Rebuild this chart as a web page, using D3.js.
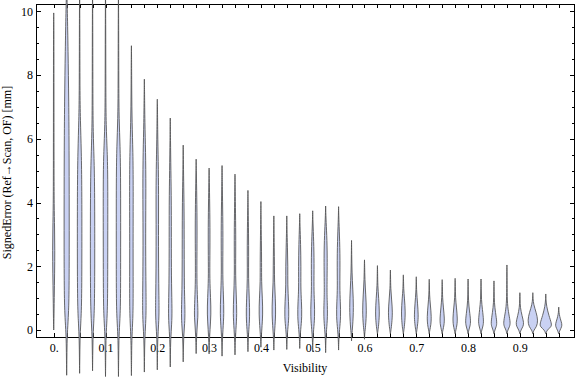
<!DOCTYPE html>
<html>
<head>
<meta charset="utf-8">
<script src="https://cdn.jsdelivr.net/npm/d3@7"></script>
<style>
  body { margin: 0; background: #fff; }
  svg { display: block; }
</style>
</head>
<body>
<div id="chart"></div>
<script>
// visibility bins (one violin per bin)
const visibility = [0, 0.025, 0.05, 0.075, 0.1, 0.125, 0.15, 0.175, 0.2, 0.225,
  0.25, 0.275, 0.3, 0.325, 0.35, 0.375, 0.4, 0.425, 0.45, 0.475,
  0.5, 0.525, 0.55, 0.575, 0.6, 0.625, 0.65, 0.675, 0.7, 0.725,
  0.75, 0.775, 0.8, 0.825, 0.85, 0.875, 0.9, 0.925, 0.95, 0.975];

// smallest / largest signed error in each bin [mm]
const minError = [0, -1.42, -1.36, -1.28, -1.46, -1.46, -1.43, -1.32, -1.25, -1.16,
  -1.0, -0.74, -0.75, -0.82, -0.78, -0.68, -0.54, -0.63, -0.61, -0.58,
  -0.68, -0.71, -0.63, -0.34, -0.29, -0.12, -0.12, -0.12, -0.12, -0.12,
  -0.12, -0.12, -0.12, -0.12, -0.12, -0.12, -0.12, -0.12, -0.12, -0.12];
const maxError = [9.95, 10.8, 10.8, 10.8, 10.8, 10.8, 8.92, 7.87, 7.24, 6.65,
  5.8, 5.36, 5.08, 5.16, 4.89, 4.38, 4.03, 3.58, 3.58, 3.65,
  3.74, 3.89, 3.87, 2.81, 2.2, 2.02, 1.88, 1.73, 1.67, 1.59,
  1.58, 1.62, 1.6, 1.6, 1.54, 2.04, 1.17, 1.17, 1.13, 0.72];

// estimated density profile of each bin: [error, relative density]
const densityProfiles = [
  [[0.3,0.04],[1.0,0.08],[1.8,0.15],[2.5,0.18],[3.2,0.14],[3.9,0.07],[5,0.05],[8,0.04],[9.6,0.03]],
  [[-1.0,0.03],[-0.4,0.06],[0,0.14],[0.5,0.3],[1.2,0.4],[3,0.42],[5.5,0.4],[7.2,0.34],[8.8,0.22],[10,0.12]],
  [[-0.9,0.03],[-0.3,0.06],[0.2,0.18],[0.8,0.34],[2.5,0.37],[4.5,0.36],[5.6,0.28],[6.6,0.12],[7.5,0.05],[9.5,0.04]],
  [[-0.8,0.03],[-0.3,0.06],[0.2,0.18],[0.8,0.33],[2.5,0.36],[4.5,0.34],[5.4,0.24],[6.2,0.1],[7.2,0.05],[9.5,0.04]],
  [[-1.0,0.03],[-0.3,0.06],[0.2,0.2],[0.8,0.35],[2.5,0.36],[4.8,0.38],[5.6,0.28],[6.4,0.1],[7.5,0.05],[9.5,0.04]],
  [[-1.0,0.03],[-0.3,0.06],[0.2,0.2],[0.8,0.35],[2.5,0.35],[4.8,0.36],[5.8,0.26],[6.6,0.1],[7.6,0.05],[9.5,0.04]],
  [[-1.0,0.03],[-0.3,0.06],[0.2,0.2],[0.8,0.3],[2.5,0.26],[4.5,0.3],[5.6,0.25],[6.5,0.1],[7.5,0.05],[8.5,0.03]],
  [[-0.9,0.03],[-0.3,0.06],[0.2,0.22],[0.7,0.3],[1.6,0.24],[3,0.2],[4.5,0.26],[5.6,0.2],[6.5,0.08],[7.5,0.03]],
  [[-0.8,0.03],[-0.3,0.06],[0.2,0.22],[0.6,0.3],[1.5,0.22],[3,0.18],[4.3,0.22],[5.3,0.15],[6.2,0.06],[7,0.03]],
  [[-0.8,0.03],[-0.3,0.06],[0.2,0.24],[0.6,0.3],[1.4,0.2],[2.5,0.17],[4,0.18],[5,0.1],[6,0.04]],
  [[-0.6,0.03],[-0.2,0.07],[0.2,0.25],[0.6,0.3],[1.3,0.18],[2.5,0.16],[3.8,0.15],[4.7,0.07],[5.4,0.03]],
  [[-0.4,0.04],[0,0.12],[0.4,0.3],[0.8,0.26],[1.4,0.12],[2.2,0.12],[3.2,0.16],[4.2,0.1],[5,0.03]],
  [[-0.4,0.04],[0,0.14],[0.5,0.32],[1,0.24],[1.6,0.1],[2.3,0.13],[3.2,0.15],[4.2,0.08],[4.8,0.03]],
  [[-0.4,0.04],[0,0.14],[0.5,0.32],[1.1,0.22],[1.7,0.1],[2.5,0.14],[3.3,0.14],[4.3,0.06],[4.9,0.03]],
  [[-0.4,0.04],[0,0.14],[0.5,0.32],[1.1,0.2],[1.7,0.09],[2.4,0.12],[3.2,0.12],[4.1,0.05],[4.6,0.03]],
  [[-0.3,0.04],[0,0.14],[0.4,0.3],[1.0,0.22],[1.6,0.08],[2.3,0.12],[3,0.1],[3.8,0.04]],
  [[-0.3,0.04],[0,0.14],[0.5,0.32],[1.0,0.24],[1.5,0.1],[2.1,0.12],[2.8,0.08],[3.5,0.03]],
  [[-0.3,0.04],[0,0.14],[0.5,0.32],[1.0,0.24],[1.5,0.1],[2.0,0.1],[2.6,0.06],[3.2,0.03]],
  [[-0.3,0.04],[0,0.14],[0.4,0.36],[0.9,0.28],[1.4,0.14],[2.0,0.18],[2.6,0.1],[3.2,0.03]],
  [[-0.3,0.04],[0,0.14],[0.4,0.36],[0.9,0.28],[1.3,0.16],[2.0,0.2],[2.7,0.14],[3.3,0.04]],
  [[-0.3,0.04],[0,0.14],[0.4,0.34],[0.9,0.28],[1.3,0.18],[2.1,0.24],[2.8,0.16],[3.4,0.04]],
  [[-0.3,0.04],[0,0.14],[0.4,0.32],[0.9,0.26],[1.2,0.2],[2.3,0.28],[3.0,0.18],[3.5,0.05]],
  [[-0.3,0.04],[0,0.14],[0.4,0.36],[0.9,0.28],[1.3,0.18],[2.2,0.25],[3.0,0.14],[3.5,0.04]],
  [[-0.15,0.04],[0.1,0.18],[0.7,0.34],[1.3,0.2],[1.8,0.07],[2.4,0.03]],
  [[-0.1,0.04],[0.1,0.18],[0.6,0.34],[1.1,0.2],[1.6,0.06],[2.0,0.03]],
  [[0,0.1],[0.2,0.22],[0.55,0.34],[1.0,0.2],[1.4,0.05],[1.8,0.03]],
  [[0,0.1],[0.2,0.22],[0.55,0.36],[0.95,0.2],[1.3,0.05],[1.7,0.03]],
  [[0,0.1],[0.2,0.22],[0.55,0.34],[1.0,0.18],[1.3,0.05],[1.6,0.03]],
  [[0,0.1],[0.2,0.24],[0.45,0.34],[0.85,0.2],[1.2,0.05],[1.5,0.03]],
  [[0,0.1],[0.15,0.26],[0.4,0.36],[0.8,0.18],[1.1,0.05],[1.4,0.03]],
  [[0,0.12],[0.15,0.3],[0.35,0.38],[0.7,0.2],[1.0,0.06],[1.4,0.03]],
  [[0,0.12],[0.15,0.3],[0.35,0.38],[0.7,0.22],[1.0,0.06],[1.4,0.03]],
  [[0,0.12],[0.12,0.32],[0.28,0.44],[0.6,0.22],[0.9,0.06],[1.3,0.03]],
  [[0,0.12],[0.12,0.32],[0.28,0.44],[0.65,0.22],[0.95,0.06],[1.3,0.03]],
  [[0,0.14],[0.1,0.36],[0.22,0.5],[0.55,0.24],[0.85,0.06],[1.2,0.03]],
  [[0,0.14],[0.1,0.42],[0.22,0.58],[0.5,0.3],[0.8,0.07],[1.3,0.03],[1.8,0.02]],
  [[0,0.16],[0.1,0.5],[0.22,0.66],[0.45,0.34],[0.7,0.07],[0.95,0.03]],
  [[0,0.16],[0.1,0.62],[0.3,0.84],[0.55,0.55],[0.8,0.12],[1.0,0.03]],
  [[0,0.2],[0.1,0.9],[0.2,0.95],[0.45,0.5],[0.75,0.12],[0.95,0.03]],
  [[0,0.2],[0.1,0.5],[0.2,0.52],[0.35,0.25],[0.5,0.08],[0.6,0.03]]
];

const xTickValues = [0, 0.1, 0.2, 0.3, 0.4, 0.5, 0.6, 0.7, 0.8, 0.9];
const xTickLabels = ["0.", "0.1", "0.2", "0.3", "0.4", "0.5", "0.6", "0.7", "0.8", "0.9"];
const yTickValues = [0, 2, 4, 6, 8, 10];
const yMinorTickValues = [0.5, 1, 1.5, 2.5, 3, 3.5, 4.5, 5, 5.5, 6.5, 7, 7.5, 8.5, 9, 9.5];

const width = 576, height = 377;
const margin = { top: 4, right: 2, bottom: 40, left: 36 };
const fontFamily = '"Liberation Serif", "Times New Roman", serif';

const x = d3.scaleLinear().domain([-0.0342, 1.0045]).range([margin.left, width - margin.right]);
const y = d3.scaleLinear().domain([-0.22, 10.23]).range([height - margin.bottom, margin.top]);
const w = d3.scaleLinear().domain([0, 1]).range([0, 6.2]);

const svg = d3.select("#chart")
    .append("svg")
    .attr("width", width)
    .attr("height", height);

// frame
svg.append("rect")
    .attr("x", margin.left)
    .attr("y", margin.top)
    .attr("width", width - margin.left - margin.right)
    .attr("height", height - margin.top - margin.bottom)
    .attr("fill", "none")
    .attr("stroke", "#000")
    .attr("shape-rendering", "crispEdges");

function styleAxis(g) {
    g.select(".domain").remove();
    g.attr("font-family", fontFamily).attr("font-size", 12);
    g.selectAll("line").attr("shape-rendering", "crispEdges");
    g.selectAll("text").attr("fill", "#000");
}

// bottom ticks at every bin + labels
svg.append("g")
    .attr("transform", `translate(0,${height - margin.bottom})`)
    .call(d3.axisBottom(x).tickValues(visibility).tickSizeInner(-4).tickSizeOuter(0).tickFormat(""))
    .call(styleAxis);
svg.append("g")
    .attr("transform", `translate(0,${height - margin.bottom})`)
    .call(d3.axisBottom(x).tickValues(xTickValues).tickSize(0).tickPadding(6)
        .tickFormat((d, i) => xTickLabels[i]))
    .call(styleAxis);

// top ticks
svg.append("g")
    .attr("transform", `translate(0,${margin.top})`)
    .call(d3.axisTop(x).tickValues(visibility).tickSizeInner(-4).tickSizeOuter(0).tickFormat(""))
    .call(styleAxis);

// left axis
svg.append("g")
    .attr("transform", `translate(${margin.left},0)`)
    .call(d3.axisLeft(y).tickValues(yTickValues).tickSizeInner(-4.5).tickSizeOuter(0).tickPadding(3)
        .tickFormat(d3.format("d")))
    .call(styleAxis);
svg.append("g")
    .attr("transform", `translate(${margin.left},0)`)
    .call(d3.axisLeft(y).tickValues(yMinorTickValues).tickSizeInner(-2.5).tickSizeOuter(0).tickFormat(""))
    .call(styleAxis);

// right axis
svg.append("g")
    .attr("transform", `translate(${width - margin.right},0)`)
    .call(d3.axisRight(y).tickValues(yTickValues).tickSizeInner(-4.5).tickSizeOuter(0).tickFormat(""))
    .call(styleAxis);
svg.append("g")
    .attr("transform", `translate(${width - margin.right},0)`)
    .call(d3.axisRight(y).tickValues(yMinorTickValues).tickSizeInner(-2.5).tickSizeOuter(0).tickFormat(""))
    .call(styleAxis);

// violins
const violinArea = d3.area()
    .curve(d3.curveBasis)
    .y(d => y(d[0]))
    .x0(d => -w(d[1]))
    .x1(d => w(d[1]));

const violins = visibility.map((v, i) => ({
    v,
    points: [[minError[i], 0], ...densityProfiles[i], [maxError[i], 0]]
}));

svg.append("g")
    .selectAll("path")
    .data(violins)
    .join("path")
    .attr("transform", d => `translate(${x(d.v)},0)`)
    .attr("d", d => violinArea(d.points))
    .attr("fill", "#c9d1f3")
    .attr("stroke", "#505050")
    .attr("stroke-width", 0.85)
    .attr("stroke-linejoin", "round");

// axis titles
svg.append("text")
    .attr("x", (margin.left + width - margin.right) / 2)
    .attr("y", 371.5)
    .attr("text-anchor", "middle")
    .attr("font-family", fontFamily)
    .attr("font-size", 12)
    .text("Visibility");

svg.append("text")
    .attr("transform", `translate(10.5,${(margin.top + height - margin.bottom) / 2 + 2}) rotate(-90)`)
    .attr("text-anchor", "middle")
    .attr("font-family", fontFamily)
    .attr("font-size", 12)
    .text("SignedError (Ref\u2192Scan, OF) [mm]");
</script>
</body>
</html>
